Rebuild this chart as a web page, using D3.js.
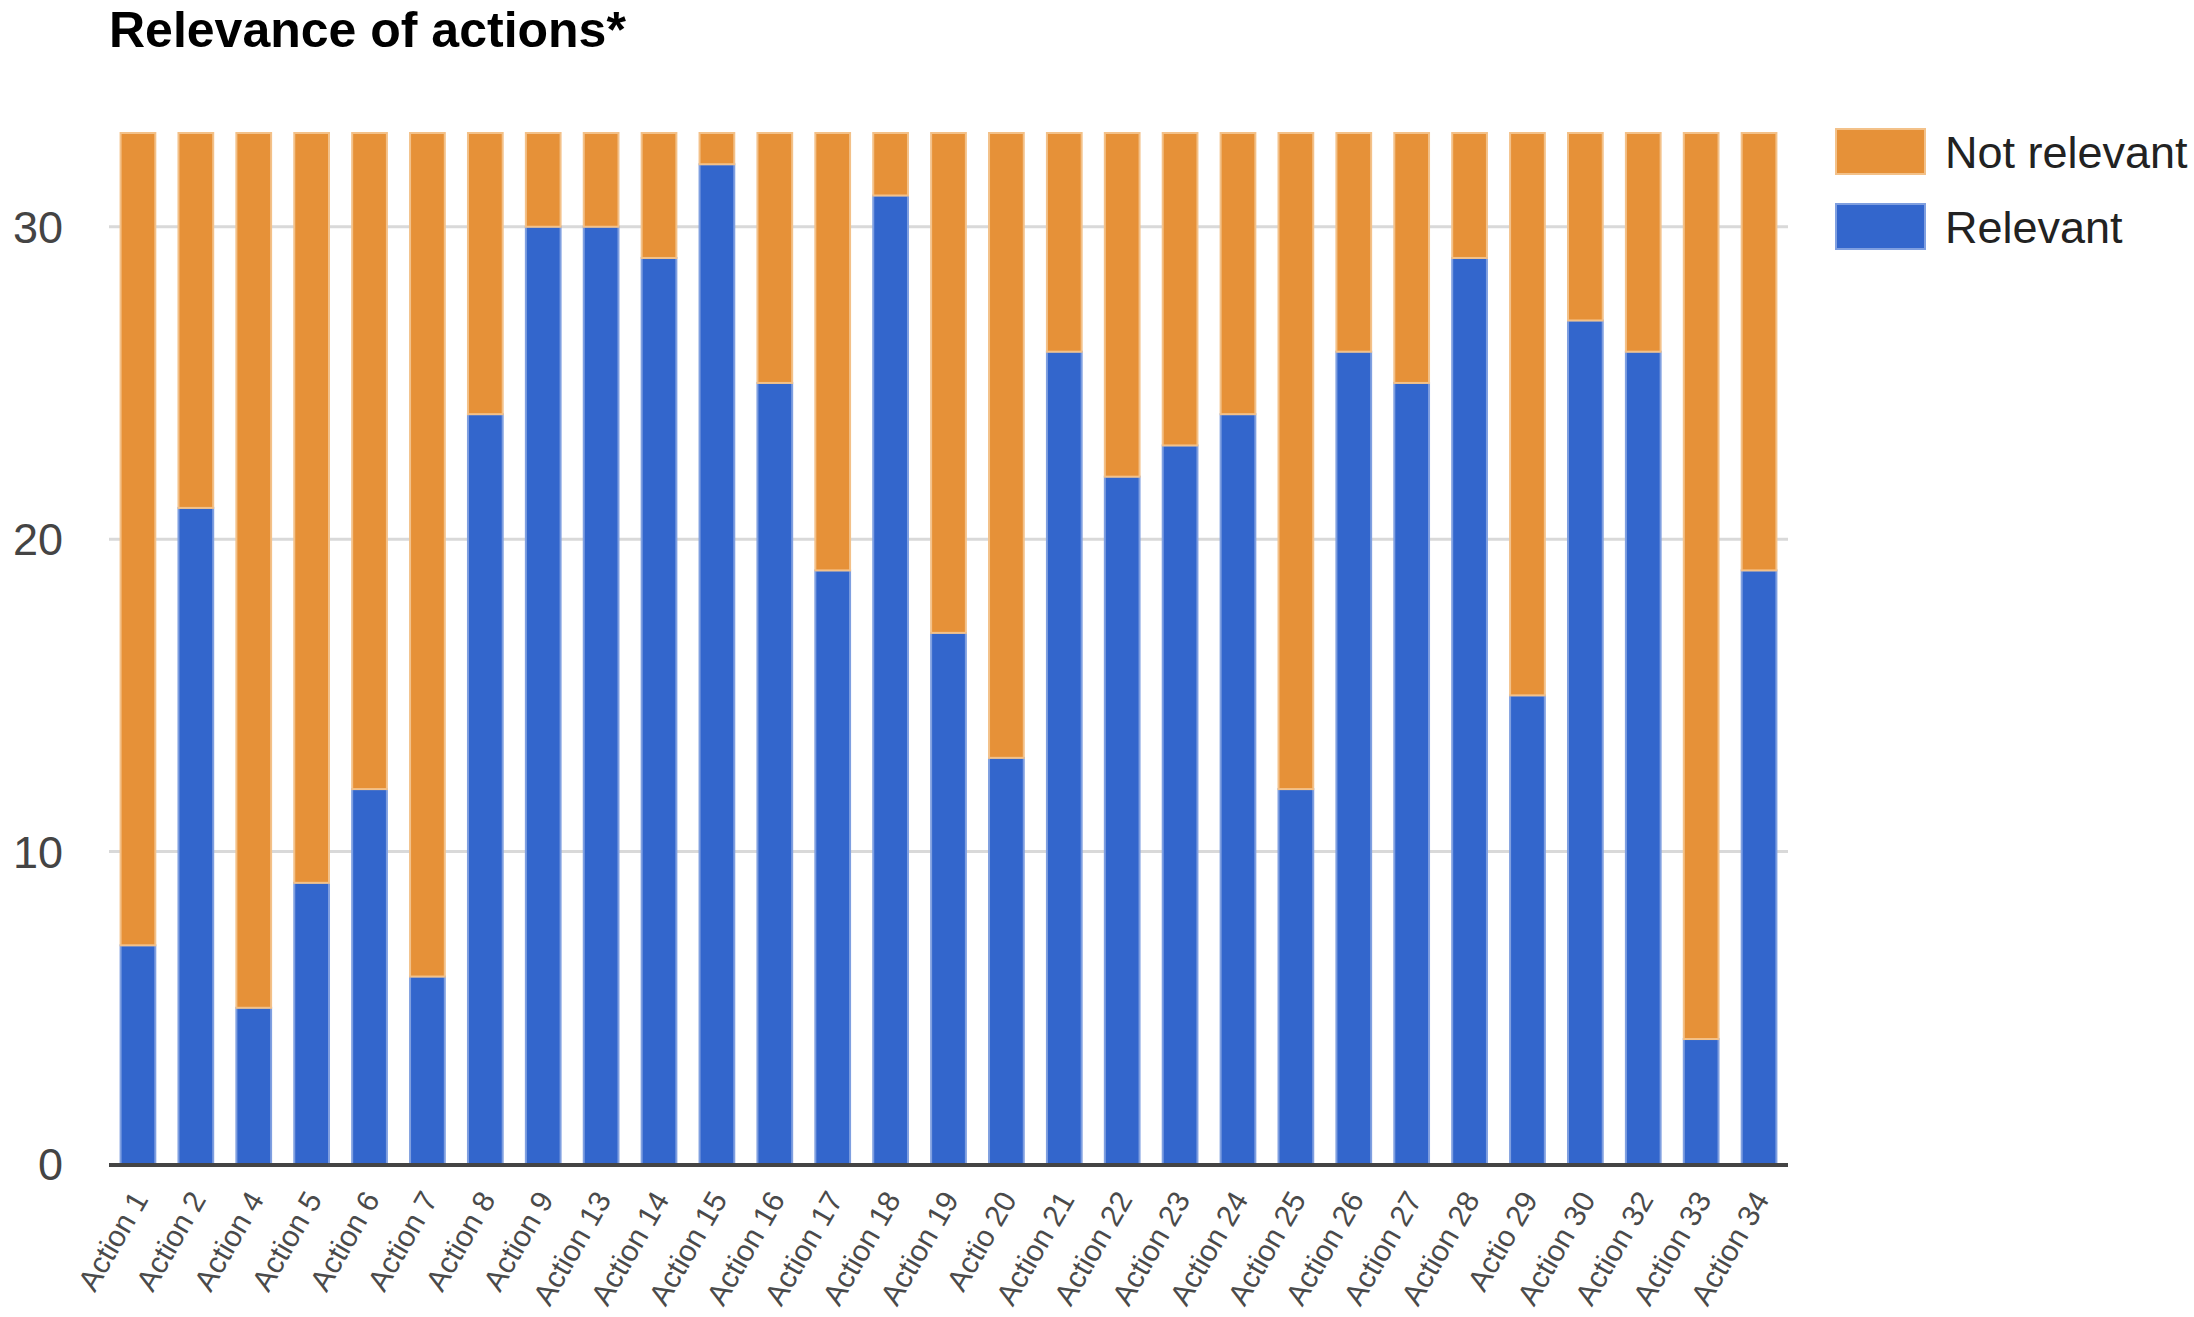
<!DOCTYPE html>
<html>
<head>
<meta charset="utf-8">
<script src="https://cdn.jsdelivr.net/npm/d3@7"></script>
<style>
  body { margin: 0; background: #fff; }
  text { font-family: Arial, "Liberation Sans", sans-serif; }
</style>
</head>
<body>
<svg id="chart"></svg>
<script>
// chart data
var categories = ["Action 1", "Action 2", "Action 4", "Action 5", "Action 6", "Action 7", "Action 8", "Action 9",
    "Action 13", "Action 14", "Action 15", "Action 16", "Action 17", "Action 18", "Action 19", "Actio 20",
    "Action 21", "Action 22", "Action 23", "Action 24", "Action 25", "Action 26", "Action 27", "Action 28",
    "Actio 29", "Action 30", "Action 32", "Action 33", "Action 34"];
var relevant    = [7, 21, 5, 9, 12, 6, 24, 30, 30, 29, 32, 25, 19, 31, 17, 13, 26, 22, 23, 24, 12, 26, 25, 29, 15, 27, 26, 4, 19];
var notRelevant = [26, 12, 28, 24, 21, 27, 9, 3, 3, 4, 1, 8, 14, 2, 16, 20, 7, 11, 10, 9, 21, 7, 8, 4, 18, 6, 7, 29, 14];
var seriesNames = ["Relevant", "Not relevant"];
var yTicks = [0, 10, 20, 30];

var dim = { width: 2194, height: 1317 };
var margin = { left: 109, right: 406, top: 133, bottom: 153 };

var colors = { "Relevant": "#3366cc", "Not relevant": "#e69138" };
var edgeColors = { "Relevant": "#7f9fe0", "Not relevant": "#f3c189" };

var rows = categories.map(function(c, i) {
    return { cat: c, "Relevant": relevant[i], "Not relevant": notRelevant[i] };
});

var svg = d3.select("#chart")
    .attr("width", dim.width)
    .attr("height", dim.height);

var xScale = d3.scaleBand()
    .domain(categories)
    .range([margin.left, dim.width - margin.right])
    .paddingInner(0.4)
    .paddingOuter(0.2);

var yScale = d3.scaleLinear()
    .domain([0, 33])
    .range([dim.height - margin.bottom, margin.top]);

// title
svg.append("text")
    .attr("x", 109)
    .attr("y", 47)
    .attr("font-size", 50)
    .attr("font-weight", "bold")
    .attr("fill", "#000")
    .text("Relevance of actions*");

// gridlines
svg.append("g")
    .selectAll("line")
    .data(yTicks.filter(d => d > 0))
    .enter().append("line")
    .attr("x1", margin.left)
    .attr("x2", dim.width - margin.right)
    .attr("y1", d => yScale(d))
    .attr("y2", d => yScale(d))
    .attr("stroke", "#d9d9d9")
    .attr("stroke-width", 3);

// y labels
svg.append("g")
    .selectAll("text")
    .data(yTicks)
    .enter().append("text")
    .attr("x", 63)
    .attr("y", d => yScale(d))
    .attr("dy", "0.36em")
    .attr("text-anchor", "end")
    .attr("font-size", 45)
    .attr("fill", "#444")
    .text(d => d);

// stacked bars
var stacked = d3.stack().keys(seriesNames)(rows);

svg.append("g")
    .selectAll("g")
    .data(stacked)
    .enter().append("g")
    .attr("fill", d => colors[d.key])
    .attr("stroke", d => edgeColors[d.key])
    .attr("stroke-width", 2)
    .selectAll("rect")
    .data(d => d)
    .enter().append("rect")
    .attr("x", d => xScale(d.data.cat))
    .attr("width", xScale.bandwidth())
    .attr("y", d => yScale(d[1]))
    .attr("height", d => yScale(d[0]) - yScale(d[1]));

// baseline
svg.append("line")
    .attr("x1", margin.left)
    .attr("x2", dim.width - margin.right)
    .attr("y1", yScale(0) + 1)
    .attr("y2", yScale(0) + 1)
    .attr("stroke", "#444")
    .attr("stroke-width", 4);

// x labels
svg.append("g")
    .selectAll("text")
    .data(categories)
    .enter().append("text")
    .attr("transform", d => "translate(" + (xScale(d) + xScale.bandwidth() / 2 + 2) + "," + (yScale(0) + 30) + ") rotate(-60)")
    .attr("text-anchor", "end")
    .attr("dy", "0.35em")
    .attr("font-size", 30)
    .attr("fill", "#4a4a4a")
    .text(d => d);

// legend
var legend = svg.append("g")
    .selectAll("g")
    .data(["Not relevant", "Relevant"])
    .enter().append("g")
    .attr("transform", (d, i) => "translate(1836," + (129 + i * 75) + ")");

legend.append("rect")
    .attr("width", 89)
    .attr("height", 45)
    .attr("fill", d => colors[d])
    .attr("stroke", d => edgeColors[d])
    .attr("stroke-width", 2);

legend.append("text")
    .attr("x", 109)
    .attr("y", 23)
    .attr("dy", "0.36em")
    .attr("font-size", 45)
    .attr("fill", "#222")
    .text(d => d);
</script>
</body>
</html>
